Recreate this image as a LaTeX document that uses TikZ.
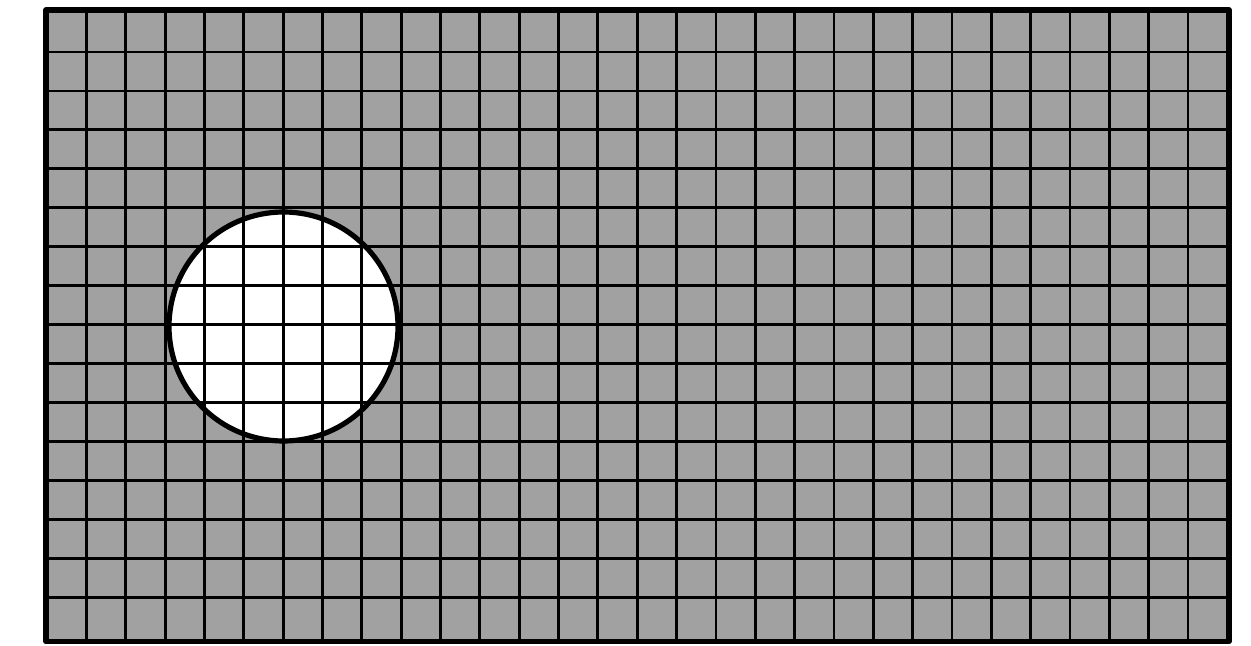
\documentclass[tikz,border=0pt]{standalone}
\begin{document}
\begin{tikzpicture}[x=0.5pt,y=-0.5pt,
  cellfill/.style={fill={rgb,255:red,161;green,161;blue,161}},
  gridline/.style={draw=black,line width=1.45pt},
  frameline/.style={draw=black,line width=2.8pt,line join=round},
  holeline/.style={draw=black,line width=2.6pt}]
\useasboundingbox (0,0) rectangle (1251,646);
\path[cellfill] (46,10) rectangle (1229,641.5);
\fill[white] (283.5,326.5) circle (114.5);
\foreach \i in {0,...,28}
  \draw[gridline] ({86.5+39.34*\i},10) -- ({86.5+39.34*\i},641.5);
\foreach \j in {0,...,14}
  \draw[gridline] (46,{52+38.96*\j}) -- (1229,{52+38.96*\j});
\draw[holeline] (283.5,326.5) circle (114.5);
\draw[frameline] (46,10) rectangle (1229,641.5);
\end{tikzpicture}
\end{document}
